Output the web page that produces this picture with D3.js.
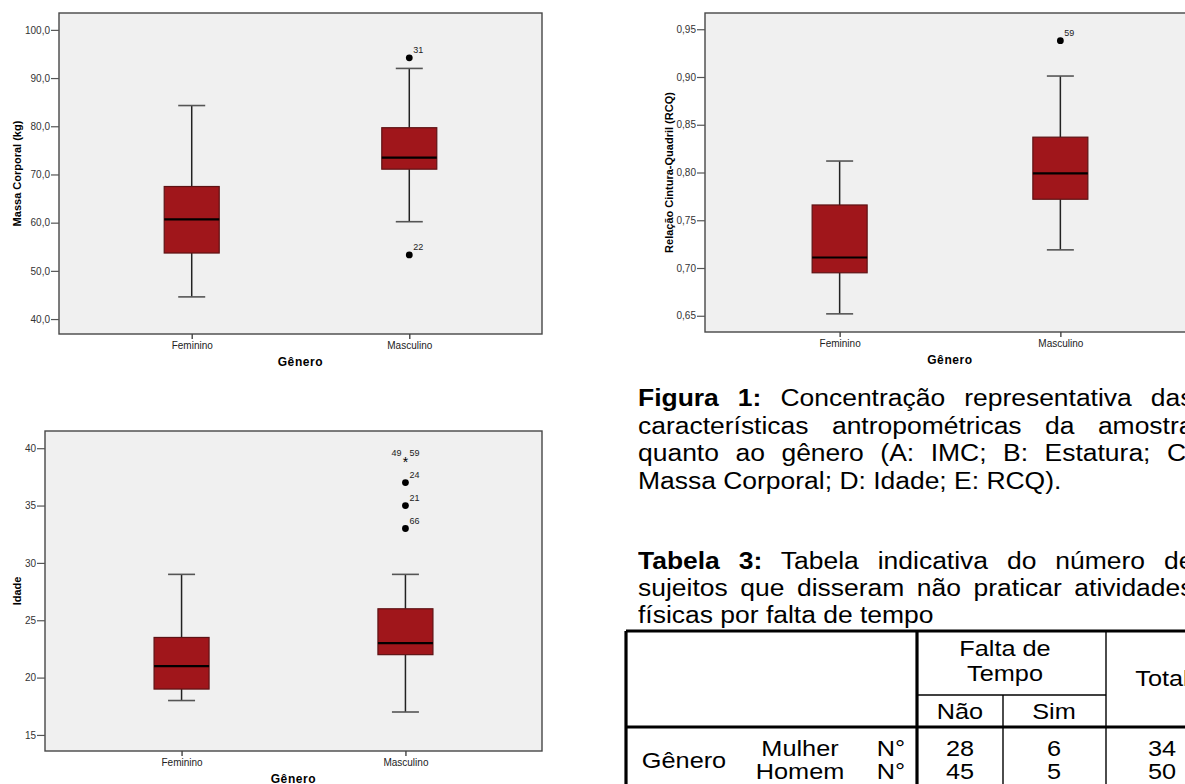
<!DOCTYPE html>
<html>
<head>
<meta charset="utf-8">
<script src="https://cdn.jsdelivr.net/npm/d3@7"></script>
<style>
  html, body { margin: 0; padding: 0; background: #fff; overflow: hidden; }
  svg { display: block; position: absolute; left: 0; top: 0; }
  .para { position: absolute; font-family: "Liberation Sans", Arial, sans-serif; color: #000;
          transform-origin: 0 0; }
  .para .ln { text-align: justify; text-align-last: justify; white-space: normal; }
  .para .ln.last { text-align: left; text-align-last: left; }
</style>
</head>
<body>
<svg id="page" width="1185" height="784"></svg>
<script>
// ---- data ----
const categories = ['Feminino', 'Masculino'];

// lower whisker, Q1, median, Q3, upper whisker
const massaBoxes = [
  [44.6, 53.7, 60.7, 67.5, 84.3],
  [60.2, 71.1, 73.5, 79.7, 92.0]
];
const massaOutliers = [
  { cat: 'Masculino', value: 94.2, label: '31' },
  { cat: 'Masculino', value: 53.3, label: '22' }
];
const massaTicks = [40, 50, 60, 70, 80, 90, 100];

const rcqBoxes = [
  [0.652, 0.695, 0.711, 0.766, 0.812],
  [0.719, 0.772, 0.799, 0.837, 0.901]
];
const rcqOutliers = [
  { cat: 'Masculino', value: 0.938, label: '59' }
];
const rcqTicks = [0.65, 0.70, 0.75, 0.80, 0.85, 0.90, 0.95];

const idadeBoxes = [
  [18, 19, 21, 23.5, 29],
  [17, 22, 23, 26, 29]
];
const idadeOutliers = [
  { cat: 'Masculino', value: 33, label: '66' },
  { cat: 'Masculino', value: 35, label: '21' },
  { cat: 'Masculino', value: 37, label: '24' }
];
const idadeExtremes = [
  { cat: 'Masculino', value: 39, labels: ['49', '59'] }
];
const idadeTicks = [15, 20, 25, 30, 35, 40];

const captionBold = 'Figura 1:';
const captionLines = [
  'Figura 1: Concentração representativa das',
  'características antropométricas da amostra',
  'quanto ao gênero (A: IMC; B: Estatura; C:',
  'Massa Corporal; D: Idade; E: RCQ).'
];
const tableTitleBold = 'Tabela 3:';
const tableTitleLines = [
  'Tabela 3: Tabela indicativa do número de',
  'sujeitos que disseram não praticar atividades',
  'físicas por falta de tempo'
];

const tableGroup = 'Gênero';
const tableRows = ['Mulher', 'Homem'];
const tableUnit = 'N°';
const tableCols = ['Não', 'Sim', 'Total'];
const faltaNao = [28, 45];
const faltaSim = [6, 5];
const faltaTotal = [34, 50];

// ---- drawing ----
const svg = d3.select('#page');
const comma = f => v => f(v).replace('.', ',');
const FONT = '"Liberation Sans", Arial, sans-serif';

function drawBoxPanel(p) {
  const g = svg.append('g');
  const x = d3.scalePoint().domain(categories).range(p.xRange).padding(0.61);
  const y = d3.scaleLinear().domain(p.domain).range([p.bottom, p.top]);

  g.append('rect')
    .attr('x', p.left).attr('y', p.top)
    .attr('width', p.frameRight - p.left).attr('height', p.bottom - p.top)
    .attr('fill', '#f0f0f0').attr('stroke', '#474747').attr('stroke-width', 1.4);

  const yAxis = g.append('g')
    .attr('transform', 'translate(' + p.left + ',0)')
    .attr('font-family', FONT).attr('font-size', 9.5)
    .call(d3.axisLeft(y).tickValues(p.ticks).tickSize(8).tickPadding(1).tickFormat(p.format));
  yAxis.select('.domain').remove();
  yAxis.selectAll('line').attr('stroke', '#555').attr('stroke-width', 1.2);
  yAxis.selectAll('text').attr('fill', '#333');

  const xAxis = g.append('g')
    .attr('transform', 'translate(0,' + p.bottom + ')')
    .attr('font-family', FONT).attr('font-size', 9.5)
    .call(d3.axisBottom(x).tickSize(5).tickPadding(2.5));
  xAxis.select('.domain').remove();
  xAxis.selectAll('line').attr('stroke', '#444').attr('stroke-width', 1.4);
  xAxis.selectAll('text').attr('fill', '#222');

  // axis titles
  g.append('text')
    .attr('transform', 'translate(' + p.titleX + ',' + (p.top + p.bottom) / 2 + ') rotate(-90)')
    .attr('text-anchor', 'middle').attr('dy', '0.35em')
    .attr('font-family', FONT).attr('font-size', 11).attr('font-weight', 'bold')
    .text(p.yTitle);
  g.append('text')
    .attr('x', (p.xRange[0] + p.xRange[1]) / 2).attr('y', p.xTitleY)
    .attr('text-anchor', 'middle').attr('dy', '0.35em')
    .attr('font-family', FONT).attr('font-size', 12).attr('font-weight', 'bold')
    .attr('letter-spacing', 0.6)
    .text('Gênero');

  const rows = categories.map((c, i) => ({ cat: c, s: p.boxes[i] }));
  const bw = 55, cw = 27;
  const box = g.selectAll('.box').data(rows).join('g').attr('class', 'box');

  // whiskers
  box.append('line')
    .attr('x1', d => x(d.cat)).attr('x2', d => x(d.cat))
    .attr('y1', d => y(d.s[4])).attr('y2', d => y(d.s[3]))
    .attr('stroke', '#222').attr('stroke-width', 1.5);
  box.append('line')
    .attr('x1', d => x(d.cat)).attr('x2', d => x(d.cat))
    .attr('y1', d => y(d.s[1])).attr('y2', d => y(d.s[0]))
    .attr('stroke', '#222').attr('stroke-width', 1.5);
  box.selectAll('.cap').data(d => [d.s[0], d.s[4]].map(v => ({ cat: d.cat, v })))
    .join('line').attr('class', 'cap')
    .attr('x1', d => x(d.cat) - cw / 2).attr('x2', d => x(d.cat) + cw / 2)
    .attr('y1', d => y(d.v)).attr('y2', d => y(d.v))
    .attr('stroke', '#555').attr('stroke-width', 1.6);

  box.append('rect')
    .attr('x', d => x(d.cat) - bw / 2).attr('width', bw)
    .attr('y', d => y(d.s[3])).attr('height', d => y(d.s[1]) - y(d.s[3]))
    .attr('fill', '#a0161b').attr('stroke', '#5e1214').attr('stroke-width', 1.2);
  box.append('line')
    .attr('x1', d => x(d.cat) - bw / 2).attr('x2', d => x(d.cat) + bw / 2)
    .attr('y1', d => y(d.s[2])).attr('y2', d => y(d.s[2]))
    .attr('stroke', '#000').attr('stroke-width', 2.2);

  // outliers
  const out = g.selectAll('.out').data(p.outliers || []).join('g').attr('class', 'out');
  out.append('circle')
    .attr('cx', d => x(d.cat)).attr('cy', d => y(d.value)).attr('r', 3.4)
    .attr('fill', '#000');
  out.append('text')
    .attr('x', d => x(d.cat) + 4).attr('y', d => y(d.value) - 8)
    .attr('dy', '0.35em')
    .attr('font-family', FONT).attr('font-size', 9).attr('fill', '#222')
    .text(d => d.label);

  // extremes
  const ext = g.selectAll('.ext').data(p.extremes || []).join('g').attr('class', 'ext');
  ext.append('text')
    .attr('x', d => x(d.cat)).attr('y', d => y(d.value) + 7)
    .attr('text-anchor', 'middle')
    .attr('font-family', FONT).attr('font-size', 14).attr('fill', '#000')
    .text('*');
  ext.append('text')
    .attr('x', d => x(d.cat) - 4).attr('y', d => y(d.value) - 7)
    .attr('text-anchor', 'end').attr('dy', '0.35em')
    .attr('font-family', FONT).attr('font-size', 9).attr('fill', '#222')
    .text(d => d.labels[0]);
  ext.append('text')
    .attr('x', d => x(d.cat) + 4).attr('y', d => y(d.value) - 7)
    .attr('dy', '0.35em')
    .attr('font-family', FONT).attr('font-size', 9).attr('fill', '#222')
    .text(d => d.labels[1]);
}

drawBoxPanel({
  left: 59, frameRight: 542, xRange: [59, 542], top: 13, bottom: 334,
  domain: [36.9, 103.5], ticks: massaTicks, format: comma(d3.format('.1f')),
  titleX: 17, xTitleY: 362, yTitle: 'Massa Corporal (kg)',
  boxes: massaBoxes, outliers: massaOutliers
});
drawBoxPanel({
  left: 705, frameRight: 1200, xRange: [705, 1195], top: 13, bottom: 332,
  domain: [0.633, 0.967], ticks: rcqTicks, format: comma(d3.format('.2f')),
  titleX: 669, xTitleY: 360, yTitle: 'Relação Cintura-Quadril (RCQ)',
  boxes: rcqBoxes, outliers: rcqOutliers
});
drawBoxPanel({
  left: 45, frameRight: 542, xRange: [45, 542], top: 431, bottom: 751,
  domain: [13.6, 41.5], ticks: idadeTicks, format: d3.format('d'),
  titleX: 17, xTitleY: 779, yTitle: 'Idade',
  boxes: idadeBoxes, outliers: idadeOutliers, extremes: idadeExtremes
});

// ---- caption paragraphs (justified, slightly stretched like the scan) ----
function drawParagraph(lines, bold, left, top, lineHeight) {
  const div = d3.select('body').append('div').attr('class', 'para')
    .style('left', left + 'px').style('top', top + 'px')
    .style('width', '483px').style('font-size', '23px')
    .style('line-height', lineHeight + 'px')
    .style('transform', 'scaleX(1.15)');
  div.selectAll('.ln').data(lines).join('div')
    .attr('class', (d, i) => i === lines.length - 1 ? 'ln last' : 'ln')
    .each(function (d) {
      const el = d3.select(this);
      if (d.startsWith(bold)) {
        el.append('b').text(bold);
        el.append('span').text(d.slice(bold.length));
      } else {
        el.text(d);
      }
    });
}
drawParagraph(captionLines, captionBold, 638, 385, 27.5);
drawParagraph(tableTitleLines, tableTitleBold, 638, 548, 27);

// ---- table ----
const tg = svg.append('g');
const colX = d3.scaleOrdinal().domain(tableCols).range([960, 1054, 1162]);
const rowY = d3.scaleOrdinal().domain(tableRows).range([748, 771]);

const thick = [
  [626, 631, 1200, 631], [626, 727, 1200, 727],
  [626, 631, 626, 790], [917, 631, 917, 790]
];
const thin = [
  [917, 695, 1106, 695], [1003, 695, 1003, 790], [1106, 631, 1106, 790]
];
tg.selectAll('.thick').data(thick).join('line')
  .attr('x1', d => d[0]).attr('y1', d => d[1]).attr('x2', d => d[2]).attr('y2', d => d[3])
  .attr('stroke', '#000').attr('stroke-width', 3.2);
tg.selectAll('.thin').data(thin).join('line')
  .attr('x1', d => d[0]).attr('y1', d => d[1]).attr('x2', d => d[2]).attr('y2', d => d[3])
  .attr('stroke', '#000').attr('stroke-width', 1.4);

function cell(x, y, t, anchor) {
  tg.append('text')
    .attr('transform', 'translate(' + x + ',' + y + ') scale(1.15,1)')
    .attr('text-anchor', anchor || 'middle').attr('dy', '0.36em')
    .attr('font-family', FONT).attr('font-size', 22)
    .text(t);
}
cell(1005, 648, 'Falta de');
cell(1005, 673, 'Tempo');
cell(colX('Total'), 678, 'Total');
cell(colX('Não'), 711, 'Não');
cell(colX('Sim'), 711, 'Sim');
cell(684, 760, tableGroup);
tableRows.forEach((r, i) => {
  cell(800, rowY(r), r);
  cell(891, rowY(r), tableUnit);
  cell(colX('Não'), rowY(r), faltaNao[i]);
  cell(colX('Sim'), rowY(r), faltaSim[i]);
  cell(colX('Total'), rowY(r), faltaTotal[i]);
});
</script>
</body>
</html>
